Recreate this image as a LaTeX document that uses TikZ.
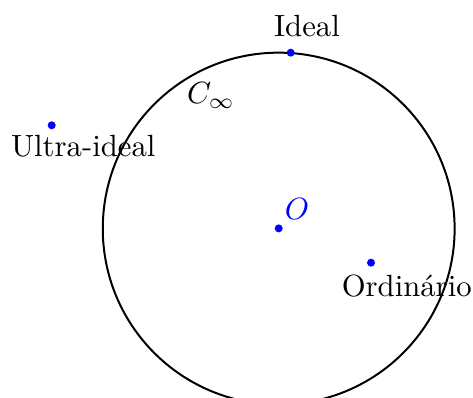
\documentclass[tikz,border=0pt]{standalone}
\begin{document}
\begin{tikzpicture}[x=0.3257pt,y=-0.3257pt,
  dot/.style={circle,fill=blue,inner sep=0pt,minimum size=2.6pt},
  lbl/.style={inner sep=0pt,anchor=base},
  curve/.style={line width=0.65pt}]
\useasboundingbox (0,0) rectangle (473,398);
\clip (0,0) rectangle (473,398);
\coordinate (C) at (278.7,228.6);
\draw[curve] (C) circle[radius=57.3pt];
\node[dot] (O) at (278.7,228.4) {};
\node[dot] (I) at (290.7,52.7) {};
\node[dot] (U) at (51.7,125.3) {};
\node[dot] (R) at (371,262.7) {};
\node[lbl] (Il) at (307,36.7) {Ideal};
\node[lbl] (Cl) at (211,103.8) {$C_\infty$};
\node[lbl,text=blue] (Ol) at (297,219.6) {$O$};
\node[lbl] (Rl) at (406.7,296.7) {Ordinário};
\node[lbl] (Ul) at (83.3,156.7) {Ultra-ideal};
\end{tikzpicture}
\end{document}
